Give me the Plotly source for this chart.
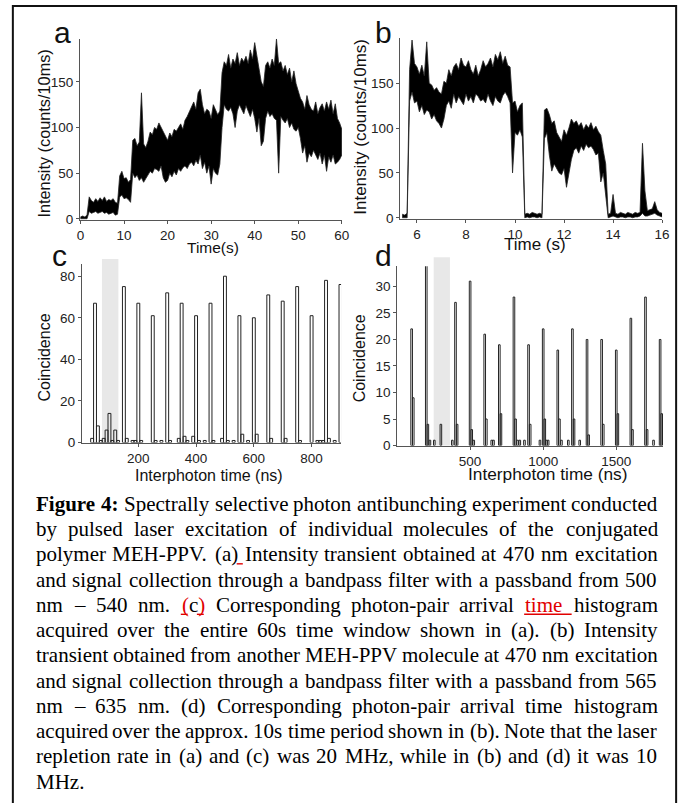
import plotly.graph_objects as go

W, H = 692, 803

# ---------------- data: panel a (intensity transient, 0-60 s) ----------------
a_t0, a_dt = 0.0, 0.5
a_upper = [
    2, 3, 2, 4, 24, 20, 18, 22, 19, 23,
    20, 24, 19, 21, 20, 22, 18, 17, 47, 52,
    44, 45, 40, 43, 86, 88, 80, 84, 138, 82,
    78, 85, 95, 92, 100, 98, 105, 100, 95, 90,
    86, 94, 90, 98, 96, 100, 104, 98, 108, 112,
    118, 122, 128, 120, 138, 142, 125, 115, 120, 118,
    110, 125, 120, 114, 118, 160, 172, 168, 180, 165,
    175, 170, 182, 168, 176, 172, 178, 170, 185, 175,
    193, 178, 165, 150, 145, 168, 172, 165, 175, 168,
    197, 170, 172, 162, 168, 158, 165, 150, 162, 148,
    140, 132, 128, 120, 135, 125, 120, 118, 128, 115,
    122, 126, 118, 128, 120, 130, 115, 126, 110, 105,
    98]
a_lower = [
    0, 0, 0, 0, 8, 6, 7, 8, 6, 7,
    8, 6, 7, 5, 6, 7, 4, 5, 24, 26,
    22, 23, 21, 18, 50, 45, 48, 42, 45, 40,
    44, 48, 52, 50, 55, 54, 52, 58, 45, 40,
    42, 50, 46, 52, 48, 55, 52, 56, 58, 55,
    60, 62, 58, 64, 60, 70, 55, 62, 50, 58,
    38, 55, 50, 48, 60, 100, 125, 120, 118, 122,
    115, 100, 118, 125, 120, 115, 124, 118, 112, 120,
    110, 95, 110, 80, 85, 110, 118, 112, 115, 110,
    108, 50, 112, 108, 105, 110, 100, 105, 98, 96,
    100, 88, 72, 80, 62, 72, 68, 75, 70, 65,
    72, 60, 70, 52, 68, 62, 70, 60, 62, 65,
    70]

# ---------------- data: panel b (intensity transient, 5.4-16 s) ----------------
b_t0, b_dt = 5.4, 0.1
b_upper = [
    4, 3, 5, 165, 198, 172,
    168, 160, 170, 158, 196, 150, 148, 142, 145, 140,
    138, 152, 150, 165, 158, 168, 172, 165, 178, 170,
    168, 175, 165, 160, 170, 158, 165, 175, 168, 172,
    178, 168, 182, 176, 185, 172, 180, 170, 168, 128,
    130, 118, 125, 128, 4, 5, 4, 6, 5, 4,
    5, 4, 120, 122, 115, 105, 108, 95, 90, 85,
    98, 92, 100, 110, 105, 108, 102, 106, 98, 104,
    100, 106, 98, 102, 96, 92, 75, 60, 4, 5,
    26, 5, 4, 6, 5, 4, 6, 5, 4, 6,
    5, 6, 83, 30, 8, 9, 10, 18, 9, 6,
    5]
b_lower = [
    0, 0, 0, 130, 140, 128,
    130, 118, 125, 115, 120, 118, 110, 115, 108, 105,
    100, 110, 125, 130, 122, 138, 128, 135, 130, 126,
    138, 130, 135, 128, 138, 135, 130, 132, 128, 138,
    130, 125, 135, 130, 128, 136, 140, 135, 128, 50,
    95, 92, 98, 90, 0, 1, 0, 1, 1, 0,
    1, 0, 88, 95, 70, 52, 60, 55, 50, 48,
    55, 34, 52, 65, 75, 78, 72, 80, 75, 82,
    78, 80, 76, 70, 72, 40, 50, 25, 0, 1,
    2, 1, 0, 1, 1, 0, 1, 1, 0, 1,
    1, 2, 5, 2, 2, 3, 4, 5, 3, 2,
    1]

# ---------------- data: panel c (coincidence histogram, 20 MHz) ----------------
c_peak_ns = [50, 150, 200, 250, 300, 350, 400, 450, 500, 550, 600, 650, 700, 750, 800, 850, 900]
c_peak_counts = [67, 75, 67, 61, 72, 67, 61, 67, 80, 61, 60, 71, 68, 75, 61, 78, 76]
c_minor_ns = [40, 60, 70, 80, 90, 100, 110, 120, 130, 160, 180, 190, 210, 260, 280, 310, 340,
              360, 370, 390, 410, 430, 460, 490, 510, 530, 560, 580, 610, 660, 710, 760, 820,
              830, 840, 860, 880]
c_minor_counts = [2, 8, 1, 2, 6, 14, 1, 6, 1, 2, 1, 1, 1, 1, 1, 1, 2,
                  3, 1, 3, 1, 1, 1, 2, 1, 1, 4, 1, 4, 2, 2, 1, 1,
                  1, 1, 2, 1]
c_shade_ns = [74, 131]

# ---------------- data: panel d (coincidence histogram, 10 MHz) ----------------
d_peak_ns = [100, 200, 300, 400, 500, 600, 700, 800, 900, 1000, 1100, 1200, 1300, 1400, 1500,
             1600, 1700, 1800]
d_peak_counts = [22, 34, 4, 27, 31, 21, 19, 28, 19, 22, 18, 22, 20, 20, 18, 24, 28, 20]
d_side_ns = [111, 211, 411, 511, 611, 711, 811, 911, 1011, 1111, 1211, 1311, 1411, 1511, 1611,
             1711, 1811]
d_side_counts = [9, 4, 4, 3, 5, 6, 5, 4, 5, 5, 5, 2, 4, 6, 3, 3, 6]
d_minor_ns = [225, 255, 378, 525, 648, 660, 825, 840, 872, 978, 1022, 1034, 1125, 1172, 1250, 1755]
d_minor_counts = [1, 1, 1, 1, 1, 1, 1, 1, 1, 1, 1, 1, 1, 1, 1, 1]
d_shade_ns = [251, 362]

# tick labels
a_xticks = [0, 10, 20, 30, 40, 50, 60]
ab_yticks = [0, 50, 100, 150]
b_xticks = [6, 8, 10, 12, 14, 16]
c_xticks = [200, 400, 600, 800]
c_yticks = [0, 20, 40, 60, 80]
d_xticks = [500, 1000, 1500]
d_yticks = [0, 5, 10, 15, 20, 25, 30]

caption_lines = [
    "Figure 4: Spectrally selective photon antibunching experiment conducted",
    "by pulsed laser excitation of individual molecules of the conjugated",
    "polymer MEH-PPV. (a) Intensity transient obtained at 470 nm excitation",
    "and signal collection through a bandpass filter with a passband from 500",
    "nm \u2013 540 nm. (c) Corresponding photon-pair arrival time histogram",
    "acquired over the entire 60s time window shown in (a). (b) Intensity",
    "transient obtained from another MEH-PPV molecule at 470 nm excitation",
    "and signal collection through a bandpass filter with a passband from 565",
    "nm \u2013 635 nm. (d) Corresponding photon-pair arrival time histogram",
    "acquired over the approx. 10s time period shown in (b). Note that the laser",
    "repletion rate in (a) and (c) was 20 MHz, while in (b) and (d) it was 10",
    "MHz.",
]

# ---------------- figure ----------------
def PX(px):
    return px / W


def PY(py):
    return 1 - py / H


fig = go.Figure()

for (t0, dt, up, lo), xa, ya in [((a_t0, a_dt, a_upper, a_lower), 'x', 'y'),
                                 ((b_t0, b_dt, b_upper, b_lower), 'x2', 'y2')]:
    t = [t0 + dt * i for i in range(len(up))]
    fig.add_trace(go.Scatter(x=t, y=lo, mode='lines', line=dict(color='#222', width=0.8),
                             xaxis=xa, yaxis=ya, hoverinfo='skip'))
    fig.add_trace(go.Scatter(x=t, y=up, mode='lines', line=dict(color='#222', width=0.8),
                             fill='tonexty', fillcolor='#000', xaxis=xa, yaxis=ya, hoverinfo='skip'))

bar_style = dict(color='rgba(0,0,0,0)', line=dict(color='#222', width=1))
fig.add_trace(go.Bar(x=c_peak_ns + c_minor_ns, y=c_peak_counts + c_minor_counts, width=10,
                     marker=bar_style, xaxis='x3', yaxis='y3', hoverinfo='skip'))
fig.add_trace(go.Bar(x=d_peak_ns + d_side_ns + d_minor_ns,
                     y=d_peak_counts + d_side_counts + d_minor_counts, width=11,
                     marker=bar_style, xaxis='x4', yaxis='y4', hoverinfo='skip'))

axis_style = dict(showline=True, linecolor='#555', linewidth=1, ticks='outside', ticklen=3,
                  tickwidth=1, tickcolor='#555', showgrid=False, zeroline=False,
                  tickfont=dict(family='Liberation Sans', size=13.5, color='#222'))

fig.update_layout(
    width=W, height=H, margin=dict(l=0, r=0, t=0, b=0),
    paper_bgcolor='white', plot_bgcolor='rgba(0,0,0,0)', showlegend=False, barmode='overlay',
    xaxis=dict(domain=[PX(78), PX(344)], range=[-0.14, 60.05], tickvals=a_xticks, anchor='y', **axis_style),
    yaxis=dict(domain=[PY(222), PY(39)], range=[-1.1, 197.4], tickvals=ab_yticks, anchor='x', **axis_style),
    xaxis2=dict(domain=[PX(403), PX(669)], range=[5.316, 16.01], tickvals=b_xticks, anchor='y2', **axis_style),
    yaxis2=dict(domain=[PY(221), PY(38)], range=[-1.1, 200.7], tickvals=ab_yticks, anchor='x2', **axis_style),
    xaxis3=dict(domain=[PX(80), PX(343)], range=[4.4, 902], tickvals=c_xticks, anchor='y3', **axis_style),
    yaxis3=dict(domain=[PY(447), PY(267)], range=[0, 85.7], tickvals=c_yticks, anchor='x3', **axis_style),
    xaxis4=dict(domain=[PX(400), PX(670)], range=[1.3, 1822], tickvals=d_xticks, anchor='y4', **axis_style),
    yaxis4=dict(domain=[PY(450), PY(269)], range=[0, 33.8], tickvals=d_yticks, anchor='x4', **axis_style),
)

shapes = [
    dict(type='rect', xref='x3', yref='y3 domain', x0=c_shade_ns[0], x1=c_shade_ns[1], y0=0, y1=1.03,
         fillcolor='#e8e8e8', line=dict(width=0), layer='below'),
    dict(type='rect', xref='x4', yref='y4 domain', x0=d_shade_ns[0], x1=d_shade_ns[1], y0=0, y1=1.05,
         fillcolor='#e8e8e8', line=dict(width=0), layer='below'),
    dict(type='rect', xref='paper', yref='paper', x0=PX(10), x1=PX(683), y0=-0.02, y1=PY(6),
         line=dict(color='#111', width=2), fillcolor='rgba(0,0,0,0)'),
]

ann = []
SANS = 'Liberation Sans'


def label(text, cx, cy, size, angle=0):
    ann.append(dict(text=text, x=PX(cx), y=PY(cy), xref='paper', yref='paper', showarrow=False,
                    xanchor='center', yanchor='middle', textangle=angle, borderpad=0,
                    font=dict(family=SANS, size=size, color='#111')))


# panel letters (center x, baseline -> middle)
for txt, cx, base in [('a', 60, 43.3), ('b', 386, 43.3), ('c', 57, 268.3), ('d', 386, 268.3)]:
    label(txt, cx, base - 0.3465 * 30, 30)

label('Intensity (counts/10ms)', 41.5, 135, 16.3, -90)
label('Time(s)', 213.5, 249.5, 15.5)
label('Intensity (counts/10ms)', 363.3, 128, 17, -90)
label('Time (s)', 540, 246.5, 17)
label('Coincidence', 41.7, 361, 16, -90)
label('Interphoton time (ns)', 209, 480.5, 16)
label('Coincidence', 361.7, 361.5, 16, -90)
label('Interphoton time (ns)', 552.5, 478.5, 17.3)

# ---------------- caption (justified, word by word) ----------------
TIMES = {' ': 250, '(': 333, ')': 333, ',': 250, '-': 333, '.': 250, '/': 278, ':': 278, '\u2013': 500,
         'A': 722, 'B': 667, 'C': 667, 'D': 722, 'E': 611, 'F': 556, 'G': 722, 'H': 722, 'I': 333,
         'J': 389, 'K': 722, 'L': 611, 'M': 889, 'N': 722, 'O': 722, 'P': 556, 'Q': 722, 'R': 667,
         'S': 556, 'T': 611, 'U': 722, 'V': 722, 'W': 944, 'X': 722, 'Y': 722, 'Z': 611,
         'a': 444, 'b': 500, 'c': 444, 'd': 500, 'e': 444, 'f': 333, 'g': 500, 'h': 500, 'i': 278,
         'j': 278, 'k': 500, 'l': 278, 'm': 778, 'n': 500, 'o': 500, 'p': 500, 'q': 500, 'r': 333,
         's': 389, 't': 278, 'u': 500, 'v': 500, 'w': 722, 'x': 500, 'y': 500, 'z': 444}
for dch in '0123456789':
    TIMES[dch] = 500
TIMES_B = dict(TIMES)
TIMES_B.update({'F': 611, 'u': 556, 'r': 444, ':': 333})

FS = 21
LEFT, RIGHT = 32, 662
BASE0, LEAD = 516, 25.5
RED = 'rgb(225,0,0)'


def wpx(word, bold=False):
    tab = TIMES_B if bold else TIMES
    return sum(tab.get(ch, 500) for ch in word) * FS / 1000.0


for li, line in enumerate(caption_lines):
    words = line.split(' ')
    bolds = [li == 0 and wi < 2 for wi in range(len(words))]
    widths = [wpx(w, b) for w, b in zip(words, bolds)]
    last = li == len(caption_lines) - 1
    gap = wpx(' ') if last or len(words) < 2 else (RIGHT - LEFT - sum(widths)) / (len(words) - 1)
    base = BASE0 + LEAD * li
    xs = []
    x = LEFT
    for w in widths:
        xs.append(x)
        x += w + gap
    for wi, (w, b, x0) in enumerate(zip(words, bolds, xs)):
        txt = '<b>%s</b>' % w if b else w
        ul = []
        if li == 4 and w == '(c)':
            txt = '<span style="color:%s">(</span>c<span style="color:%s">)</span>' % (RED, RED)
            ul.append((x0, x0 + wpx('(')))
            ul.append((x0 + wpx('(c'), x0 + wpx('(c)')))
        if li == 4 and w == 'time':
            txt = '<span style="color:%s">time</span>' % RED
            ul.append((x0, xs[wi + 1] - 1))
        if li == 2 and w == '(a)':
            ul.append((x0 + widths[wi], xs[wi + 1] - 1))
        ann.append(dict(text=txt, x=PX(x0), y=PY(base - 0.3375 * FS), xref='paper', yref='paper',
                        showarrow=False, xanchor='left', yanchor='middle', borderpad=0,
                        font=dict(family='Liberation Serif', size=FS, color='black')))
        for u0, u1 in ul:
            shapes.append(dict(type='line', xref='paper', yref='paper', x0=PX(u0), x1=PX(u1),
                               y0=PY(base + 2.5), y1=PY(base + 2.5), line=dict(color=RED, width=1.4)))

fig.update_layout(shapes=shapes, annotations=ann, hovermode=False)
# remove the browser's default 8px page margin so the figure sits at the window's corner
fig.write_html('out.html', config={'displayModeBar': False},
               post_script="document.body.style.margin='0px';")
